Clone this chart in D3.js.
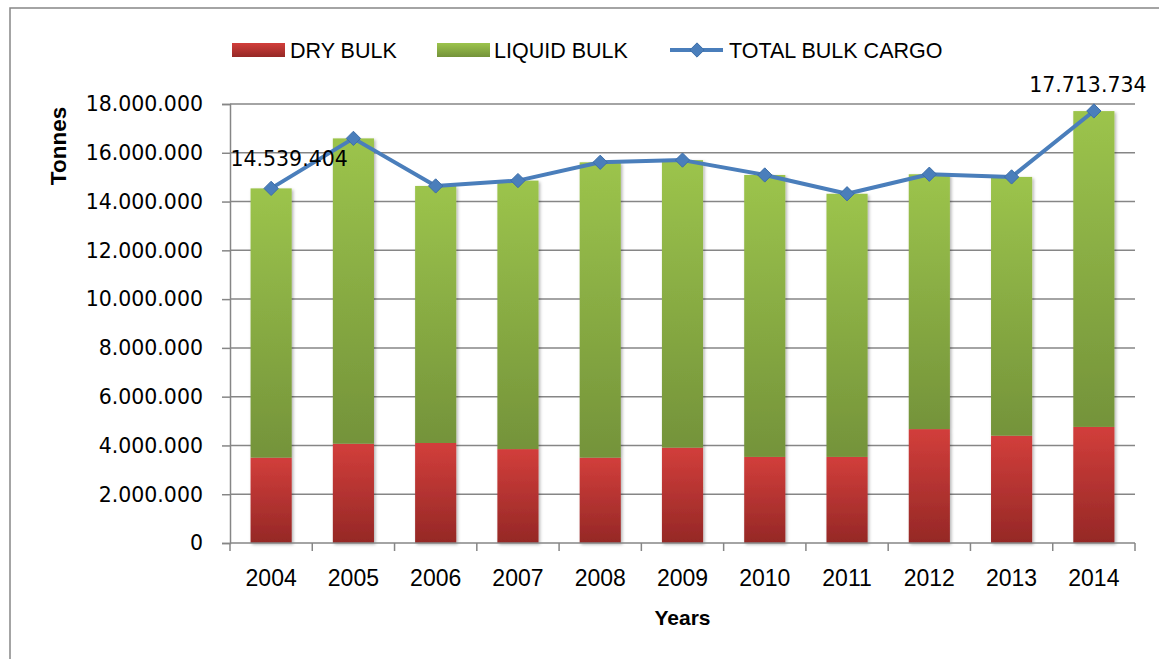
<!DOCTYPE html>
<html>
<head>
<meta charset="utf-8">
<script src="https://cdn.jsdelivr.net/npm/d3@7"></script>
<style>
  body { margin: 0; background: #fff; }
  .tick-y { font: 20.5px "DejaVu Sans", Verdana, sans-serif; fill: #000; }
  .tick-x { font: 23px "Liberation Sans", Arial, sans-serif; fill: #000; }
  .legend text { font: 21.5px "Liberation Sans", Arial, sans-serif; fill: #000; }
  .axis-title { font: bold 21px "Liberation Sans", Arial, sans-serif; fill: #000; }
  .data-label { font: 20.5px "DejaVu Sans", Verdana, sans-serif; fill: #000; }
</style>
</head>
<body>
<svg width="1159" height="659"></svg>
<script>
// values (tonnes)
const years = ['2004', '2005', '2006', '2007', '2008', '2009', '2010', '2011', '2012', '2013', '2014'];
const dryBulk = [3500000, 4070000, 4100000, 3850000, 3500000, 3910000, 3530000, 3530000, 4670000, 4400000, 4760000];
const liquidBulk = [11040000, 12520000, 10540000, 11010000, 12110000, 11790000, 11560000, 10790000, 10450000, 10610000, 12950000];
const totalBulk = [14539404, 16590000, 14640000, 14860000, 15610000, 15700000, 15090000, 14320000, 15120000, 15010000, 17713734];
const yTicks = [0, 2000000, 4000000, 6000000, 8000000, 10000000, 12000000, 14000000, 16000000, 18000000];
const labelled = ['2004', '2014'];

const svg = d3.select('svg');
const pLeft = 230, pRight = 1135, pTop = 104, pBottom = 543;
const grey = '#868686';

const x = d3.scaleBand().domain(years).range([pLeft, pRight]).paddingInner(0.5).paddingOuter(0.25);
const y = d3.scaleLinear().domain([0, 18000000]).range([pBottom, pTop]);
const fmt = v => d3.format(',')(v).replace(/,/g, '.');

// gradients + shadow
const defs = svg.append('defs');
function grad(id, c1, c2) {
  const g = defs.append('linearGradient').attr('id', id).attr('x1', 0).attr('y1', 0).attr('x2', 0).attr('y2', 1);
  g.append('stop').attr('offset', '0%').attr('stop-color', c1);
  g.append('stop').attr('offset', '100%').attr('stop-color', c2);
}
grad('gRed', '#d23e3b', '#952826');
grad('gGreen', '#9cc44c', '#74933a');
const f = defs.append('filter').attr('id', 'shadow').attr('x', '-20%').attr('y', '-5%').attr('width', '140%').attr('height', '110%');
f.append('feDropShadow').attr('dx', 1.5).attr('dy', 1.5).attr('stdDeviation', 1.5).attr('flood-color', '#000').attr('flood-opacity', 0.3);

// chart border (right and bottom run off the page)
svg.append('rect').attr('x', 10).attr('y', 8).attr('width', 1200).attr('height', 700)
  .attr('fill', 'none').attr('stroke', grey).attr('stroke-width', 1.5);

// gridlines
svg.append('g').selectAll('line').data(yTicks.slice(1)).join('line')
  .attr('x1', pLeft).attr('x2', pRight)
  .attr('y1', d => y(d)).attr('y2', d => y(d))
  .attr('stroke', grey).attr('stroke-width', 1.5);

// y axis
const yAxis = svg.append('g').attr('transform', `translate(${pLeft},0)`)
  .call(d3.axisLeft(y).tickValues(yTicks).tickSize(8).tickFormat(''));
yAxis.select('.domain').attr('stroke', grey).attr('stroke-width', 1.5);
yAxis.selectAll('.tick line').attr('stroke', grey).attr('stroke-width', 1.5);
svg.append('g').selectAll('text').data(yTicks).join('text')
  .attr('class', 'tick-y')
  .attr('x', pLeft - 27).attr('y', d => y(d)).attr('dy', '0.36em')
  .attr('text-anchor', 'end')
  .text(fmt);

// bars
const bars = svg.append('g').attr('filter', 'url(#shadow)');
bars.selectAll('.dry').data(years).join('rect').attr('class', 'dry')
  .attr('x', d => x(d)).attr('width', x.bandwidth())
  .attr('y', (d, i) => y(dryBulk[i]))
  .attr('height', (d, i) => y(0) - y(dryBulk[i]))
  .attr('fill', 'url(#gRed)');
bars.selectAll('.liq').data(years).join('rect').attr('class', 'liq')
  .attr('x', d => x(d)).attr('width', x.bandwidth())
  .attr('y', (d, i) => y(dryBulk[i] + liquidBulk[i]))
  .attr('height', (d, i) => y(dryBulk[i]) - y(dryBulk[i] + liquidBulk[i]))
  .attr('fill', 'url(#gGreen)');

// x axis
const gap = (x.step() - x.bandwidth()) / 2;
const bounds = years.map(d => x(d) - gap).concat([x(years[years.length - 1]) + x.bandwidth() + gap]);
svg.append('line').attr('x1', pLeft).attr('x2', pRight).attr('y1', pBottom).attr('y2', pBottom)
  .attr('stroke', grey).attr('stroke-width', 1.5);
svg.append('g').selectAll('line').data(bounds).join('line')
  .attr('x1', d => d).attr('x2', d => d).attr('y1', pBottom).attr('y2', pBottom + 8)
  .attr('stroke', grey).attr('stroke-width', 1.5);
svg.append('g').selectAll('text').data(years).join('text')
  .attr('class', 'tick-x')
  .attr('x', d => x(d) + x.bandwidth() / 2).attr('y', 586)
  .attr('text-anchor', 'middle').text(d => d);

// total line
const cx = d => x(d) + x.bandwidth() / 2;
const line = d3.line().x((d, i) => cx(years[i])).y(d => y(d));
svg.append('path').datum(totalBulk).attr('d', line)
  .attr('fill', 'none').attr('stroke', '#4a7ebb').attr('stroke-width', 4).attr('stroke-linejoin', 'round');
const diamond = d3.symbol().type(d3.symbolDiamond2).size(130);
svg.append('g').selectAll('path').data(totalBulk).join('path')
  .attr('d', diamond)
  .attr('transform', (d, i) => `translate(${cx(years[i])},${y(d)})`)
  .attr('fill', '#4a7ebb').attr('stroke', '#3d6ea8').attr('stroke-width', 1);

// data labels
svg.append('g').selectAll('text').data(labelled).join('text')
  .attr('class', 'data-label')
  .attr('x', d => cx(d) + (d === '2004' ? 18 : -6))
  .attr('y', d => y(totalBulk[years.indexOf(d)]) + (d === '2004' ? -22 : -19))
  .attr('text-anchor', 'middle')
  .text(d => fmt(totalBulk[years.indexOf(d)]));

// axis titles
svg.append('text').attr('class', 'axis-title')
  .attr('x', (pLeft + pRight) / 2).attr('y', 625).attr('text-anchor', 'middle').text('Years');
svg.append('text').attr('class', 'axis-title').style('font-size', '22.5px')
  .attr('transform', 'translate(66,146) rotate(-90)').attr('text-anchor', 'middle').text('Tonnes');

// legend
const legend = svg.append('g').attr('class', 'legend');
legend.append('rect').attr('x', 232).attr('y', 43).attr('width', 53).attr('height', 14).attr('fill', 'url(#gRed)');
legend.append('text').attr('x', 290).attr('y', 58).text('DRY BULK');
legend.append('rect').attr('x', 437).attr('y', 43).attr('width', 53).attr('height', 14).attr('fill', 'url(#gGreen)');
legend.append('text').attr('x', 494).attr('y', 58).text('LIQUID BULK');
legend.append('line').attr('x1', 670).attr('x2', 723).attr('y1', 50).attr('y2', 50)
  .attr('stroke', '#4a7ebb').attr('stroke-width', 4);
legend.append('path').attr('d', diamond).attr('transform', 'translate(697,50)')
  .attr('fill', '#4a7ebb').attr('stroke', '#3d6ea8').attr('stroke-width', 1);
legend.append('text').attr('x', 729).attr('y', 58).text('TOTAL BULK CARGO');
</script>
</body>
</html>
